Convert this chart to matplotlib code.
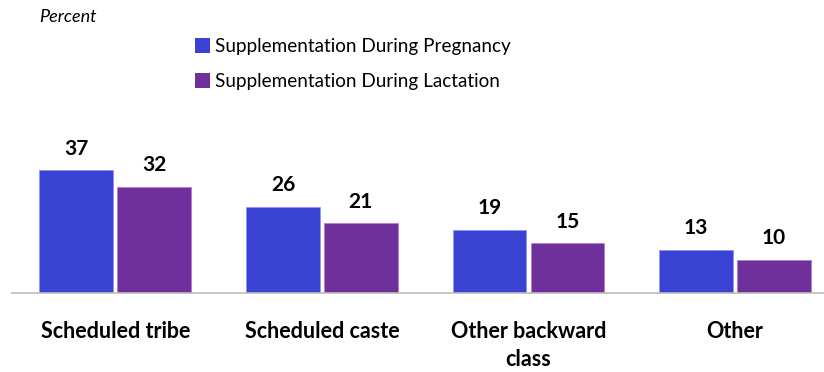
import numpy as np
import matplotlib
matplotlib.use('Agg')
import matplotlib.pyplot as plt
from matplotlib.patches import Patch

plt.rcParams['font.family'] = ['Lato', 'DejaVu Sans']

categories = ['Scheduled tribe', 'Scheduled caste', 'Other backward\nclass', 'Other']
pregnancy = [37, 26, 19, 13]
lactation = [32, 21, 15, 10]
series_names = ['Supplementation During Pregnancy', 'Supplementation During Lactation']
colors = ['#3A42D4', '#70309B']

fig = plt.figure(figsize=(8.24, 3.72), dpi=100)
ax = fig.add_axes([12/824, 1-293/372, 812/824, 163/372])

x = np.arange(len(categories))
w = 0.357
gap = 0.02
b1 = ax.bar(x - w/2 - gap/2, pregnancy, w, color=colors[0], edgecolor='#8f93ff', linewidth=0.6)
b2 = ax.bar(x + w/2 + gap/2, lactation, w, color=colors[1], edgecolor='#b27fd0', linewidth=0.6)

for bars, vals in ((b1, pregnancy), (b2, lactation)):
    for r, v in zip(bars, vals):
        ax.text(r.get_x() + r.get_width()/2, v + 3.4, str(v), ha='center', va='bottom',
                fontsize=15, fontweight='bold', color='black')

ax.set_xlim(-0.5, 3.43)
ax.set_ylim(0, 49)
for s in ('top', 'right', 'left'):
    ax.spines[s].set_visible(False)
ax.spines['bottom'].set_color('#bcbcbc')
ax.spines['bottom'].set_linewidth(1.2)
ax.set_yticks([])
ax.set_xticks(x)
ax.set_xticklabels(categories, fontsize=15.5, fontweight='bold', linespacing=1.4)
ax.tick_params(axis='x', length=0, pad=20)

fig.text(39/824, 1-17/372, 'Percent', fontsize=13, style='italic', va='center', ha='left')

handles = [Patch(facecolor=c, edgecolor='none') for c in colors]
fig.legend(handles, series_names, loc='center left', bbox_to_anchor=(178/824, 1-64/372),
           frameon=False, fontsize=13.6, handlelength=0.8, handleheight=0.8,
           handletextpad=0.25, labelspacing=0.95)

fig.savefig('out.png', dpi=100)
